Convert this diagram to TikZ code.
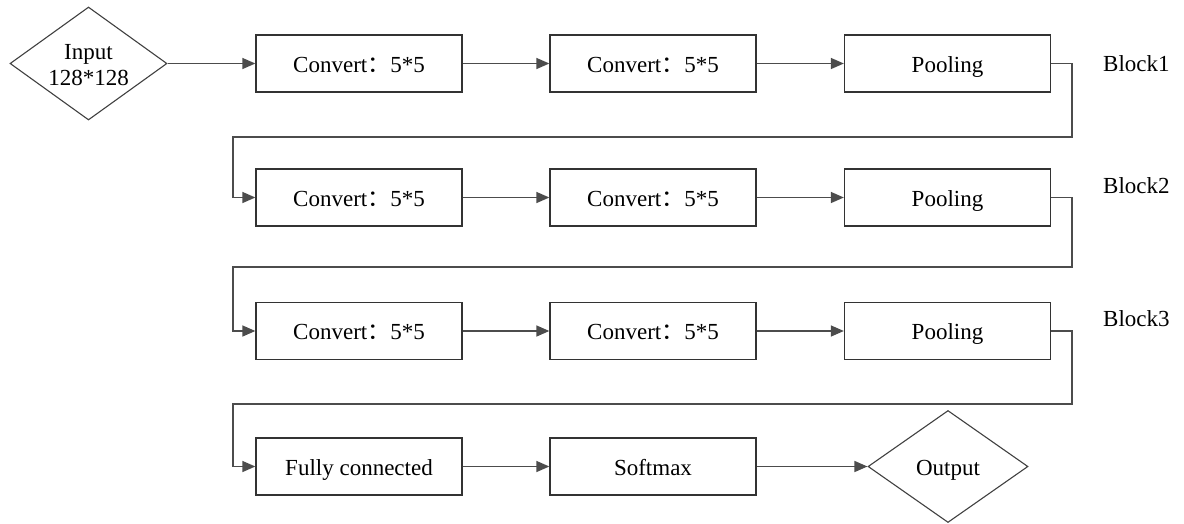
\documentclass[tikz,border=0pt]{standalone}
\usepackage{fontspec}
\setmainfont{Liberation Serif}
\newfontfamily\cjk{Noto Sans CJK SC}
\usetikzlibrary{shapes.geometric,arrows.meta}
\newcommand{\fwcolon}{{\cjk ：}}
\begin{document}
\begin{tikzpicture}[x=1pt,y=-1pt,
  every node/.style={font=\fontsize{23}{27}\selectfont},
  stepbox/.style={draw=black!80,line width=1.3pt,minimum width=206pt,minimum height=57pt,inner sep=0pt,text height=19pt,text depth=2pt},
  dia/.style={draw=black!75,line width=1.1pt,diamond,inner sep=0pt},
  conn/.style={draw=black!70,line width=1.4pt,-{Triangle[length=13pt,width=11pt]}},
  lbl/.style={anchor=west,inner sep=0pt}]
\useasboundingbox (0,0) rectangle (1184,523);
% row 1
\node[dia,minimum width=157pt,minimum height=113pt] (in) at (88.5,63.5) {};
\node[align=center,inner sep=0pt] (intext) at (88.5,65) {Input\\[-1pt]128*128};
\node[stepbox] (c11) at (359,63.5) {Convert\fwcolon 5*5};
\node[stepbox] (c12) at (653,63.5) {Convert\fwcolon 5*5};
\node[stepbox] (p1) at (947.5,63.5) {Pooling};
\node[lbl] (b1) at (1103,63.5) {Block1};
% row 2
\node[stepbox] (c21) at (359,197.5) {Convert\fwcolon 5*5};
\node[stepbox] (c22) at (653,197.5) {Convert\fwcolon 5*5};
\node[stepbox] (p2) at (947.5,197.5) {Pooling};
\node[lbl] (b2) at (1103,186) {Block2};
% row 3
\node[stepbox] (c31) at (359,331) {Convert\fwcolon 5*5};
\node[stepbox] (c32) at (653,331) {Convert\fwcolon 5*5};
\node[stepbox] (p3) at (947.5,331) {Pooling};
\node[lbl] (b3) at (1103,319) {Block3};
% row 4
\node[stepbox] (fc) at (359,466.5) {Fully connected};
\node[stepbox] (sm) at (653,466.5) {Softmax};
\node[dia,minimum width=160pt,minimum height=112pt,text height=19pt,text depth=2pt] (out) at (948,466.5) {Output};
% connectors
\draw[conn] (in) -- (c11);
\draw[conn] (c11) -- (c12);
\draw[conn] (c12) -- (p1);
\draw[conn] (p1.east) -- (1072,63.5) -- (1072,137) -- (233,137) -- (233,197.5) -- (c21.west);
\draw[conn] (c21) -- (c22);
\draw[conn] (c22) -- (p2);
\draw[conn] (p2.east) -- (1072,197.5) -- (1072,267) -- (233,267) -- (233,331) -- (c31.west);
\draw[conn] (c31) -- (c32);
\draw[conn] (c32) -- (p3);
\draw[conn] (p3.east) -- (1072,331) -- (1072,404) -- (233,404) -- (233,466.5) -- (fc.west);
\draw[conn] (fc) -- (sm);
\draw[conn] (sm) -- (out);
\end{tikzpicture}
\end{document}
